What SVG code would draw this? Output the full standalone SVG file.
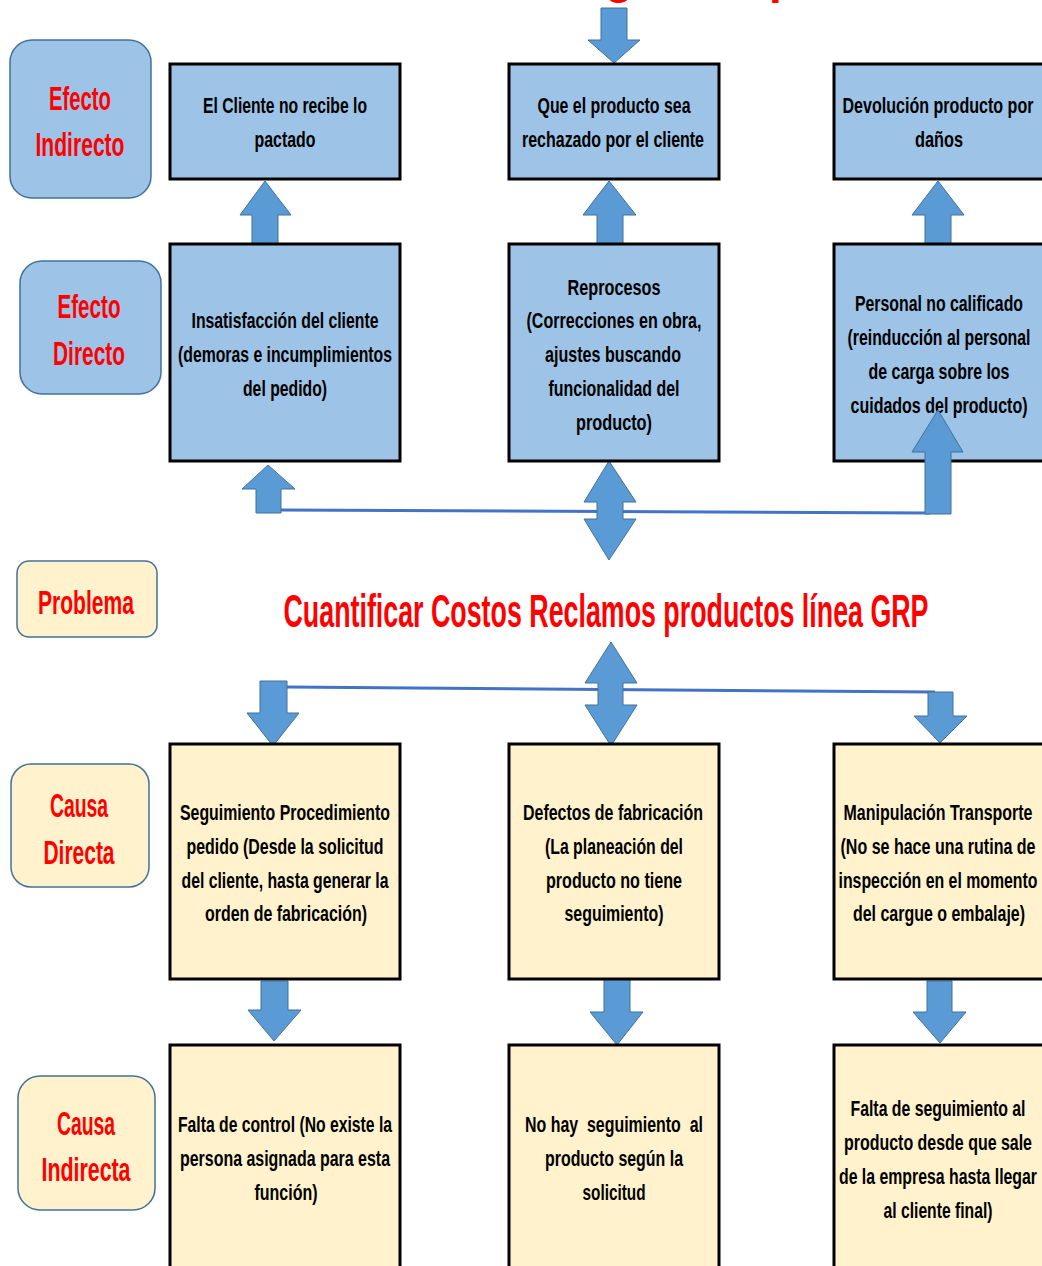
<svg xmlns="http://www.w3.org/2000/svg" width="1042" height="1266" viewBox="0 0 1042 1266">
<style>
.bg{fill:#ffffff}
.bx{stroke:#000000;stroke-width:3}
.blue{fill:#9DC3E6}
.cream{fill:#FFF2CC}
.lbl{stroke:#41719C;stroke-width:1.5}
.arr{fill:#5B9BD5;stroke:#41719C;stroke-width:1}
.ln{stroke:#4472C4;stroke-width:3;fill:none}
.t{font-family:"Liberation Sans",Arial,sans-serif;font-weight:bold;font-size:22px;fill:#000000;text-anchor:middle}
.r{font-family:"Liberation Sans",Arial,sans-serif;font-weight:bold;font-size:33px;fill:#FF0000;text-anchor:middle}
.title{font-family:"Liberation Sans",Arial,sans-serif;font-weight:bold;font-size:46px;fill:#FF0000;text-anchor:middle}
</style>
<rect class="bg" x="0" y="0" width="1042" height="1266"/>
<text class="title" y="-7"><tspan x="619">g</tspan><tspan x="783">p</tspan></text>

<g id="connectors">
<line class="ln" x1="281" y1="510" x2="930" y2="513"/>
<line class="ln" x1="287" y1="687" x2="935" y2="692"/>
<polygon class="arr" points="601,8 627,8 627,40 640,40 614,63 588,40 601,40"/>
<polygon class="arr" points="265,181 291,215 278,215 278,245 252,245 252,215 240,215"/>
<polygon class="arr" points="609,181 636,215 623,215 623,245 597,245 597,215 583,215"/>
<polygon class="arr" points="938,181 964,215 951,215 951,245 925,245 925,215 912,215"/>
<polygon class="arr" points="268,465 295,489 281,489 281,513 256,513 256,489 242,489"/>
<polygon class="arr" points="609,461 636,502 623,502 623,519 636,519 609,560 584,519 597,519 597,502 584,502"/>
<polygon class="arr" points="611,642 637,683 623,683 623,705 637,705 611,746 585,705 598,705 598,683 585,683"/>
<polygon class="arr" points="260,681 287,681 287,713 299,713 273,746 247,713 260,713"/>
<polygon class="arr" points="928,692 953,692 953,716 967,716 940,743 914,716 928,716"/>
<polygon class="arr" points="261,981 288,981 288,1010 301,1010 274,1041 248,1010 261,1010"/>
<polygon class="arr" points="604,979 630,979 630,1012 643,1012 617,1045 590,1012 604,1012"/>
<polygon class="arr" points="927,981 952,981 952,1012 966,1012 940,1043 913,1012 927,1012"/>
</g>

<g id="lbl-efecto-indirecto">
<rect class="blue lbl" x="10" y="40" width="141" height="158" rx="22"/>
<text class="r" x="80" y="110" textLength="62" lengthAdjust="spacingAndGlyphs">Efecto</text>
<text class="r" x="80" y="156" textLength="89" lengthAdjust="spacingAndGlyphs">Indirecto</text>
</g>
<g id="lbl-efecto-directo">
<rect class="blue lbl" x="20" y="261" width="141" height="133" rx="22"/>
<text class="r" x="89" y="318" textLength="63" lengthAdjust="spacingAndGlyphs">Efecto</text>
<text class="r" x="89" y="365" textLength="72" lengthAdjust="spacingAndGlyphs">Directo</text>
</g>
<g id="lbl-problema">
<rect class="cream lbl" x="17" y="561" width="140" height="76" rx="12"/>
<text class="r" x="86" y="614" textLength="96" lengthAdjust="spacingAndGlyphs">Problema</text>
</g>
<g id="lbl-causa-directa">
<rect class="cream lbl" x="11" y="764" width="138" height="123" rx="20"/>
<text class="r" x="79" y="817" textLength="58" lengthAdjust="spacingAndGlyphs">Causa</text>
<text class="r" x="79" y="864" textLength="71" lengthAdjust="spacingAndGlyphs">Directa</text>
</g>
<g id="lbl-causa-indirecta">
<rect class="cream lbl" x="18" y="1076" width="137" height="134" rx="22"/>
<text class="r" x="86" y="1135" textLength="58" lengthAdjust="spacingAndGlyphs">Causa</text>
<text class="r" x="86" y="1181" textLength="89" lengthAdjust="spacingAndGlyphs">Indirecta</text>
</g>

<g id="problema">
<text class="title" x="606" y="627" textLength="645" lengthAdjust="spacingAndGlyphs">Cuantificar Costos Reclamos productos línea GRP</text>
</g>

<g id="ei1">
<rect class="blue bx" x="170" y="64" width="230" height="115"/>
<text class="t" x="285" y="113" textLength="164" lengthAdjust="spacingAndGlyphs">El Cliente no recibe lo</text>
<text class="t" x="285" y="147" textLength="61" lengthAdjust="spacingAndGlyphs">pactado</text>
</g>
<g id="ei2">
<rect class="blue bx" x="509" y="64" width="210" height="115"/>
<text class="t" x="614" y="113" textLength="153" lengthAdjust="spacingAndGlyphs">Que el producto sea</text>
<text class="t" x="613" y="147" textLength="182" lengthAdjust="spacingAndGlyphs">rechazado por el cliente</text>
</g>
<g id="ei3">
<rect class="blue bx" x="834" y="64" width="215" height="115"/>
<text class="t" x="938" y="113" textLength="191" lengthAdjust="spacingAndGlyphs">Devolución producto por</text>
<text class="t" x="939" y="147" textLength="48" lengthAdjust="spacingAndGlyphs">daños</text>
</g>

<g id="ed1">
<rect class="blue bx" x="170" y="244" width="230" height="217"/>
<text class="t" x="285" y="328" textLength="187" lengthAdjust="spacingAndGlyphs">Insatisfacción del cliente</text>
<text class="t" x="285" y="362" textLength="214" lengthAdjust="spacingAndGlyphs">(demoras e incumplimientos</text>
<text class="t" x="285" y="396" textLength="84" lengthAdjust="spacingAndGlyphs">del pedido)</text>
</g>
<g id="ed2">
<rect class="blue bx" x="509" y="244" width="210" height="217"/>
<text class="t" x="614" y="295" textLength="93" lengthAdjust="spacingAndGlyphs">Reprocesos</text>
<text class="t" x="614" y="328" textLength="175" lengthAdjust="spacingAndGlyphs">(Correcciones en obra,</text>
<text class="t" x="613" y="362" textLength="136" lengthAdjust="spacingAndGlyphs">ajustes buscando</text>
<text class="t" x="614" y="396" textLength="131" lengthAdjust="spacingAndGlyphs">funcionalidad del</text>
<text class="t" x="614" y="430" textLength="76" lengthAdjust="spacingAndGlyphs">producto)</text>
</g>
<g id="ed3">
<rect class="blue bx" x="834" y="244" width="215" height="217"/>
<text class="t" x="939" y="311" textLength="168" lengthAdjust="spacingAndGlyphs">Personal no calificado</text>
<text class="t" x="939" y="345" textLength="183" lengthAdjust="spacingAndGlyphs">(reinducción al personal</text>
<text class="t" x="939" y="379" textLength="141" lengthAdjust="spacingAndGlyphs">de carga sobre los</text>
<text class="t" x="939" y="413" textLength="177" lengthAdjust="spacingAndGlyphs">cuidados del producto)</text>
<polygon class="arr" points="938,410 963,452 951,452 951,514 925,514 925,452 912,452"/>
</g>

<g id="cd1">
<rect class="cream bx" x="170" y="744" width="230" height="235"/>
<text class="t" x="285" y="820" textLength="210" lengthAdjust="spacingAndGlyphs">Seguimiento Procedimiento</text>
<text class="t" x="285" y="854" textLength="197" lengthAdjust="spacingAndGlyphs">pedido (Desde la solicitud</text>
<text class="t" x="285" y="888" textLength="207" lengthAdjust="spacingAndGlyphs">del cliente, hasta generar la</text>
<text class="t" x="286" y="921" textLength="162" lengthAdjust="spacingAndGlyphs">orden de fabricación)</text>
</g>
<g id="cd2">
<rect class="cream bx" x="509" y="744" width="210" height="235"/>
<text class="t" x="613" y="820" textLength="180" lengthAdjust="spacingAndGlyphs">Defectos de fabricación</text>
<text class="t" x="614" y="854" textLength="138" lengthAdjust="spacingAndGlyphs">(La planeación del</text>
<text class="t" x="614" y="888" textLength="136" lengthAdjust="spacingAndGlyphs">producto no tiene</text>
<text class="t" x="614" y="921" textLength="99" lengthAdjust="spacingAndGlyphs">seguimiento)</text>
</g>
<g id="cd3">
<rect class="cream bx" x="834" y="744" width="215" height="235"/>
<text class="t" x="938" y="820" textLength="189" lengthAdjust="spacingAndGlyphs">Manipulación Transporte</text>
<text class="t" x="938" y="854" textLength="195" lengthAdjust="spacingAndGlyphs">(No se hace una rutina de</text>
<text class="t" x="938" y="888" textLength="199" lengthAdjust="spacingAndGlyphs">inspección en el momento</text>
<text class="t" x="939" y="921" textLength="172" lengthAdjust="spacingAndGlyphs">del cargue o embalaje)</text>
</g>

<g id="ci1">
<rect class="cream bx" x="170" y="1045" width="230" height="235"/>
<text class="t" x="285" y="1132" textLength="214" lengthAdjust="spacingAndGlyphs">Falta de control (No existe la</text>
<text class="t" x="285" y="1166" textLength="210" lengthAdjust="spacingAndGlyphs">persona asignada para esta</text>
<text class="t" x="286" y="1200" textLength="63" lengthAdjust="spacingAndGlyphs">función)</text>
</g>
<g id="ci2">
<rect class="cream bx" x="509" y="1045" width="210" height="235"/>
<text class="t" x="614" y="1132" textLength="178" lengthAdjust="spacingAndGlyphs" xml:space="preserve">No hay  seguimiento  al</text>
<text class="t" x="614" y="1166" textLength="138" lengthAdjust="spacingAndGlyphs">producto según la</text>
<text class="t" x="614" y="1200" textLength="63" lengthAdjust="spacingAndGlyphs">solicitud</text>
</g>
<g id="ci3">
<rect class="cream bx" x="834" y="1045" width="215" height="235"/>
<text class="t" x="938" y="1116" textLength="175" lengthAdjust="spacingAndGlyphs">Falta de seguimiento al</text>
<text class="t" x="938" y="1150" textLength="188" lengthAdjust="spacingAndGlyphs">producto desde que sale</text>
<text class="t" x="938" y="1184" textLength="198" lengthAdjust="spacingAndGlyphs">de la empresa hasta llegar</text>
<text class="t" x="938" y="1218" textLength="109" lengthAdjust="spacingAndGlyphs">al cliente final)</text>
</g>
</svg>
